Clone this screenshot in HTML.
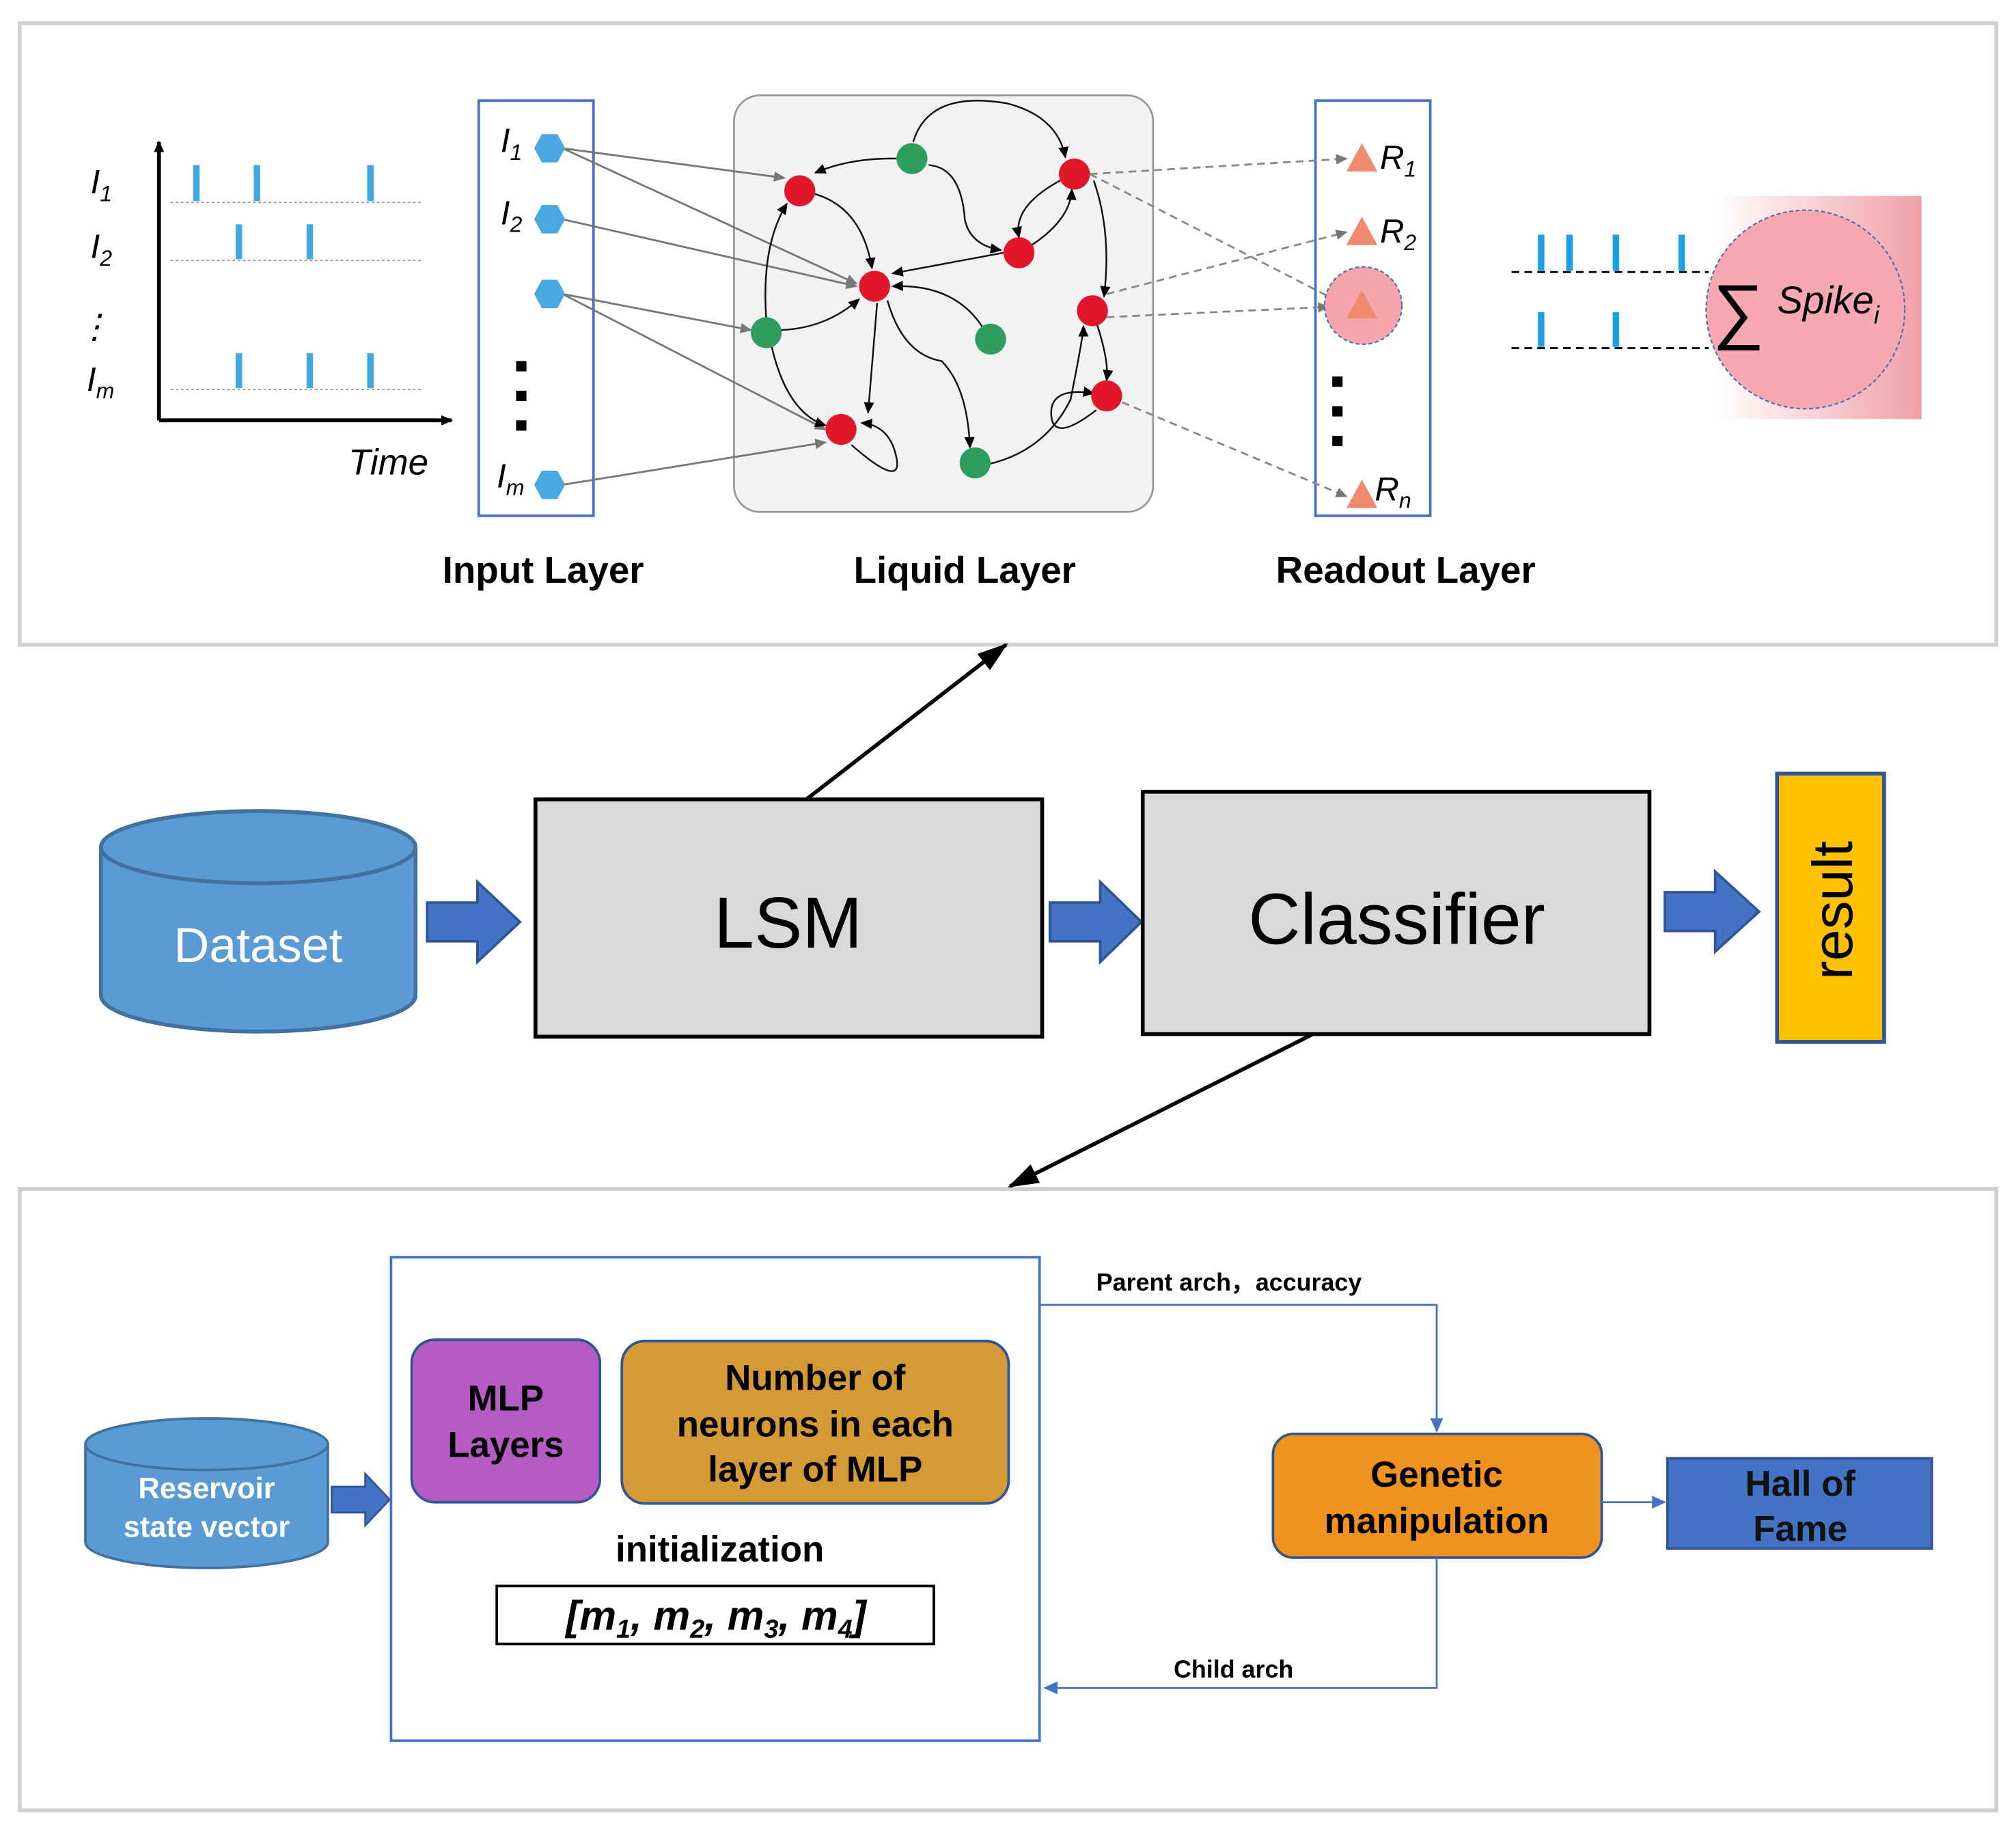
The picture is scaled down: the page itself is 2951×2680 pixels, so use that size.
<!DOCTYPE html>
<html><head><meta charset="utf-8"><style>
html,body{margin:0;padding:0;background:#fff}
svg{display:block}
text{font-family:"Liberation Sans",sans-serif}
</style></head><body>
<svg width="2951" height="2680" viewBox="0 0 1563 1420" xmlns="http://www.w3.org/2000/svg">
<defs>
<marker id="ab" markerWidth="10" markerHeight="10" refX="8" refY="5" orient="auto" markerUnits="userSpaceOnUse"><path d="M0,1 L9,5 L0,9 z" fill="#000"/></marker>
<marker id="ag" markerWidth="10" markerHeight="10" refX="8" refY="5" orient="auto" markerUnits="userSpaceOnUse"><path d="M0,1 L9,5 L0,9 z" fill="#777"/></marker>
<marker id="abig" markerWidth="26" markerHeight="20" refX="22" refY="10" orient="auto" markerUnits="userSpaceOnUse"><path d="M0,2 L24,10 L0,18 z" fill="#000"/></marker>
<marker id="abl" markerWidth="12" markerHeight="12" refX="10" refY="6" orient="auto" markerUnits="userSpaceOnUse"><path d="M0,1 L11,6 L0,11 z" fill="#4472c4"/></marker>
<linearGradient id="pg" x1="0" x2="1"><stop offset="0" stop-color="#fff"/><stop offset="1" stop-color="#f0a0a8"/></linearGradient>
</defs>

<rect x="15" y="18" width="1533" height="482" fill="#fff" stroke="#d0d0d0" stroke-width="3"/>
<rect x="15" y="922" width="1533" height="482" fill="#fff" stroke="#d0d0d0" stroke-width="3"/>

<line x1="123" y1="326" x2="123" y2="110" stroke="#000" stroke-width="3" marker-end="url(#ab)"/>
<line x1="123" y1="326" x2="350" y2="326" stroke="#000" stroke-width="3" marker-end="url(#ab)"/>
<g stroke="#999" stroke-dasharray="2,2" stroke-width="1"><line x1="132" y1="157" x2="328" y2="157"/><line x1="132" y1="202" x2="328" y2="202"/><line x1="132" y1="302" x2="328" y2="302"/></g>
<g stroke="#3fa9e0" stroke-width="5"><line x1="152" y1="128" x2="152" y2="156"/><line x1="199" y1="128" x2="199" y2="156"/><line x1="287" y1="128" x2="287" y2="156"/><line x1="185" y1="174" x2="185" y2="201"/><line x1="240" y1="174" x2="240" y2="201"/><line x1="185" y1="274" x2="185" y2="301"/><line x1="240" y1="274" x2="240" y2="301"/><line x1="287" y1="274" x2="287" y2="301"/></g>
<g font-style="italic" font-size="26"><text x="70" y="150">I<tspan font-size="17" dy="6">1</tspan></text><text x="70" y="200">I<tspan font-size="17" dy="6">2</tspan></text><text x="60" y="262">⋮</text><text x="67" y="303">I<tspan font-size="17" dy="6">m</tspan></text><text x="270" y="368" font-size="28">Time</text></g>

<rect x="371" y="78" width="89" height="322" fill="#fff" stroke="#4472c4" stroke-width="2"/>
<rect x="569" y="74" width="325" height="323" rx="20" fill="#f2f2f2" stroke="#999" stroke-width="1.5"/>
<rect x="1020" y="78" width="89" height="322" fill="#fff" stroke="#4472c4" stroke-width="2"/>

<g stroke="#777" stroke-width="1.5" fill="none" marker-end="url(#ag)">
<line x1="436" y1="115" x2="608" y2="138"/><line x1="436" y1="115" x2="664" y2="220"/><line x1="436" y1="170" x2="664" y2="222"/><line x1="436" y1="228" x2="582" y2="256"/><line x1="436" y1="228" x2="640" y2="333"/><line x1="436" y1="376" x2="640" y2="343"/>
</g>
<g stroke="#111" stroke-width="1.3" fill="none" marker-end="url(#ab)">
<path d="M697,123 Q660,122 632,134"/><path d="M708,110 Q720,70 780,80 Q820,90 826,122"/><path d="M720,128 Q745,130 748,170 Q752,190 776,194"/>
<path d="M630,150 Q668,160 676,208"/><path d="M594,247 Q590,190 610,158"/><path d="M604,256 Q640,255 666,232"/>
<path d="M778,196 L692,212"/><path d="M762,254 Q740,220 692,222"/><path d="M680,235 L673,320"/>
<path d="M688,233 Q700,275 730,280 Q750,300 752,347"/><path d="M766,360 Q810,350 830,310 Q840,260 840,253"/>
<path d="M800,190 Q830,170 831,147"/><path d="M822,140 Q785,160 790,184"/><path d="M848,140 Q862,180 856,230"/>
<path d="M850,250 Q860,280 858,295"/><path d="M850,318 Q815,345 815,320 Q815,300 848,305"/>
<path d="M598,268 Q610,320 640,330"/><path d="M660,345 Q700,380 695,355 Q690,330 668,328"/>
</g>
<g stroke="#888" stroke-width="1.5" stroke-dasharray="6,4" fill="none" marker-end="url(#ag)">
<line x1="845" y1="135" x2="1044" y2="123"/><line x1="845" y1="135" x2="1044" y2="237"/><line x1="858" y1="228" x2="1044" y2="180"/><line x1="858" y1="246" x2="1030" y2="238"/><line x1="870" y1="312" x2="1044" y2="385"/>
</g>

<g fill="#e0162b"><circle cx="620" cy="148" r="12"/><circle cx="678" cy="222" r="12"/><circle cx="652" cy="333" r="12"/><circle cx="833" cy="135" r="12"/><circle cx="790" cy="196" r="12"/><circle cx="847" cy="241" r="12"/><circle cx="858" cy="307" r="12"/></g>
<g fill="#2e9e5e"><circle cx="707" cy="123" r="12"/><circle cx="594" cy="258" r="12"/><circle cx="768" cy="263" r="12"/><circle cx="756" cy="359" r="12"/></g>
<g fill="#4aa8e0">
<polygon points="414,115 420,104 432,104 438,115 432,126 420,126"/>
<polygon points="414,170 420,159 432,159 438,170 432,181 420,181"/>
<polygon points="414,228 420,217 432,217 438,228 432,239 420,239"/>
<polygon points="414,376 420,365 432,365 438,376 432,387 420,387"/>
</g>
<g fill="#000"><rect x="400" y="280" width="8" height="8"/><rect x="400" y="303" width="8" height="8"/><rect x="400" y="326" width="8" height="8"/><rect x="1033" y="292" width="8" height="8"/><rect x="1033" y="315" width="8" height="8"/><rect x="1033" y="338" width="8" height="8"/></g>
<g font-style="italic" font-size="26"><text x="388" y="118">I<tspan font-size="17" dy="6">1</tspan></text><text x="388" y="174">I<tspan font-size="17" dy="6">2</tspan></text><text x="385" y="378">I<tspan font-size="17" dy="6">m</tspan></text>
<text x="1070" y="131">R<tspan font-size="17" dy="6">1</tspan></text><text x="1070" y="188">R<tspan font-size="17" dy="6">2</tspan></text><text x="1066" y="388">R<tspan font-size="17" dy="6">n</tspan></text></g>
<circle cx="1057" cy="237" r="30" fill="#f7a5ad" stroke="#5070b0" stroke-width="1.2" stroke-dasharray="3,2"/>
<g fill="#f08a6e"><polygon points="1056,111 1068,133 1044,133"/><polygon points="1056,168 1068,190 1044,190"/><polygon points="1056,225 1068,247 1044,247"/><polygon points="1056,372 1068,394 1044,394"/></g>
<g font-weight="bold" font-size="29"><text x="421" y="452" text-anchor="middle">Input Layer</text><text x="748" y="452" text-anchor="middle">Liquid Layer</text><text x="1090" y="452" text-anchor="middle">Readout Layer</text></g>

<rect x="1330" y="152" width="160" height="173" fill="url(#pg)"/>
<circle cx="1400" cy="240" r="77" fill="#f8a8b0" stroke="#5070b0" stroke-width="1.2" stroke-dasharray="3,2"/>
<g stroke="#000" stroke-width="1.5" stroke-dasharray="6,4"><line x1="1172" y1="211" x2="1325" y2="211"/><line x1="1172" y1="270" x2="1325" y2="270"/></g>
<g stroke="#1aa0e8" stroke-width="5"><line x1="1195" y1="182" x2="1195" y2="210"/><line x1="1217" y1="182" x2="1217" y2="210"/><line x1="1253" y1="182" x2="1253" y2="210"/><line x1="1304" y1="182" x2="1304" y2="210"/><line x1="1195" y1="242" x2="1195" y2="269"/><line x1="1253" y1="242" x2="1253" y2="269"/></g>
<text x="1328" y="260" font-size="56" font-family="Liberation Serif,serif">∑</text>
<text x="1378" y="243" font-size="30" font-style="italic" font-family="Liberation Serif,serif">Spike<tspan font-size="19" dy="8">i</tspan></text>

<path d="M78,657 L78,772 A122,28 0 0 0 322,772 L322,657" fill="#5b9bd5" stroke="#41719c" stroke-width="3"/>
<ellipse cx="200" cy="657" rx="122" ry="28" fill="#5b9bd5" stroke="#41719c" stroke-width="3"/>
<text x="200" y="746" text-anchor="middle" font-size="38" fill="#fff">Dataset</text>
<g fill="#4472c4" stroke="#2f5597" stroke-width="2">
<polygon points="331,700 370,700 370,684 403,715 370,746 370,730 331,730"/>
<polygon points="814,700 853,700 853,684 885,715 853,746 853,730 814,730"/>
<polygon points="1291,692 1330,692 1330,676 1364,707 1330,738 1330,722 1291,722"/>
</g>
<rect x="415" y="620" width="393" height="184" fill="#d9d9d9" stroke="#000" stroke-width="3"/>
<text x="611" y="735" text-anchor="middle" font-size="56">LSM</text>
<rect x="886" y="614" width="393" height="188" fill="#d9d9d9" stroke="#000" stroke-width="3"/>
<text x="1083" y="732" text-anchor="middle" font-size="56">Classifier</text>
<rect x="1378" y="600" width="83" height="208" fill="#ffc000" stroke="#2f5597" stroke-width="3"/>
<text transform="translate(1436,706) rotate(-90)" text-anchor="middle" font-size="44">result</text>
<line x1="625" y1="620" x2="780" y2="500" stroke="#000" stroke-width="3" marker-end="url(#abig)"/>
<line x1="1018" y1="802" x2="783" y2="920" stroke="#000" stroke-width="3" marker-end="url(#abig)"/>

<path d="M66,1120 L66,1196 A94,20 0 0 0 254,1196 L254,1120" fill="#5b9bd5" stroke="#41719c" stroke-width="2"/>
<ellipse cx="160" cy="1120" rx="94" ry="20" fill="#5b9bd5" stroke="#41719c" stroke-width="2"/>
<g font-weight="bold" font-size="23" fill="#fff" text-anchor="middle"><text x="160" y="1162">Reservoir</text><text x="160" y="1192">state vector</text></g>
<polygon points="257,1153 283,1153 283,1143 302,1163 283,1183 283,1173 257,1173" fill="#4472c4" stroke="#2f5597" stroke-width="1.5"/>
<rect x="303" y="975" width="503" height="375" fill="#fff" stroke="#4472c4" stroke-width="2"/>
<g font-weight="bold">
<rect x="319" y="1039" width="146" height="126" rx="18" fill="#b45bc4" stroke="#2f5597" stroke-width="2"/>
<g font-size="28" text-anchor="middle"><text x="392" y="1094">MLP</text><text x="392" y="1130">Layers</text></g>
<rect x="482" y="1040" width="300" height="126" rx="18" fill="#d49a35" stroke="#2f5597" stroke-width="2"/>
<g font-size="28" text-anchor="middle"><text x="632" y="1078">Number of</text><text x="632" y="1114">neurons in each</text><text x="632" y="1149">layer of MLP</text></g>
<text x="558" y="1211" font-size="28" text-anchor="middle">initialization</text>
<text x="850" y="1001" font-size="19">Parent arch，accuracy</text>
<text x="910" y="1301" font-size="19">Child arch</text>
<rect x="987" y="1112" width="255" height="96" rx="16" fill="#f0931e" stroke="#2f5597" stroke-width="2"/>
<g font-size="28" text-anchor="middle"><text x="1114" y="1153">Genetic</text><text x="1114" y="1189">manipulation</text></g>
<rect x="1293" y="1131" width="205" height="70" fill="#4472c4" stroke="#2f5597" stroke-width="2"/>
<g font-size="28" text-anchor="middle" fill="#111"><text x="1396" y="1160">Hall of</text><text x="1396" y="1195">Fame</text></g>
</g>
<rect x="385" y="1230" width="339" height="45" fill="#fff" stroke="#000" stroke-width="2"/>
<text x="555" y="1264" font-size="32" font-weight="bold" font-style="italic" text-anchor="middle" font-family="Liberation Serif,serif">[m<tspan font-size="20" dy="6">1</tspan><tspan dy="-6">, m</tspan><tspan font-size="20" dy="6">2</tspan><tspan dy="-6">, m</tspan><tspan font-size="20" dy="6">3</tspan><tspan dy="-6">, m</tspan><tspan font-size="20" dy="6">4</tspan><tspan dy="-6">]</tspan></text>
<path d="M806,1012 L1114,1012 L1114,1110" fill="none" stroke="#4472c4" stroke-width="1.5" marker-end="url(#abl)"/>
<path d="M1114,1208 L1114,1309 L810,1309" fill="none" stroke="#4472c4" stroke-width="1.5" marker-end="url(#abl)"/>
<line x1="1242" y1="1165" x2="1291" y2="1165" stroke="#4472c4" stroke-width="1.5" marker-end="url(#abl)"/>
</svg>
</body></html>
